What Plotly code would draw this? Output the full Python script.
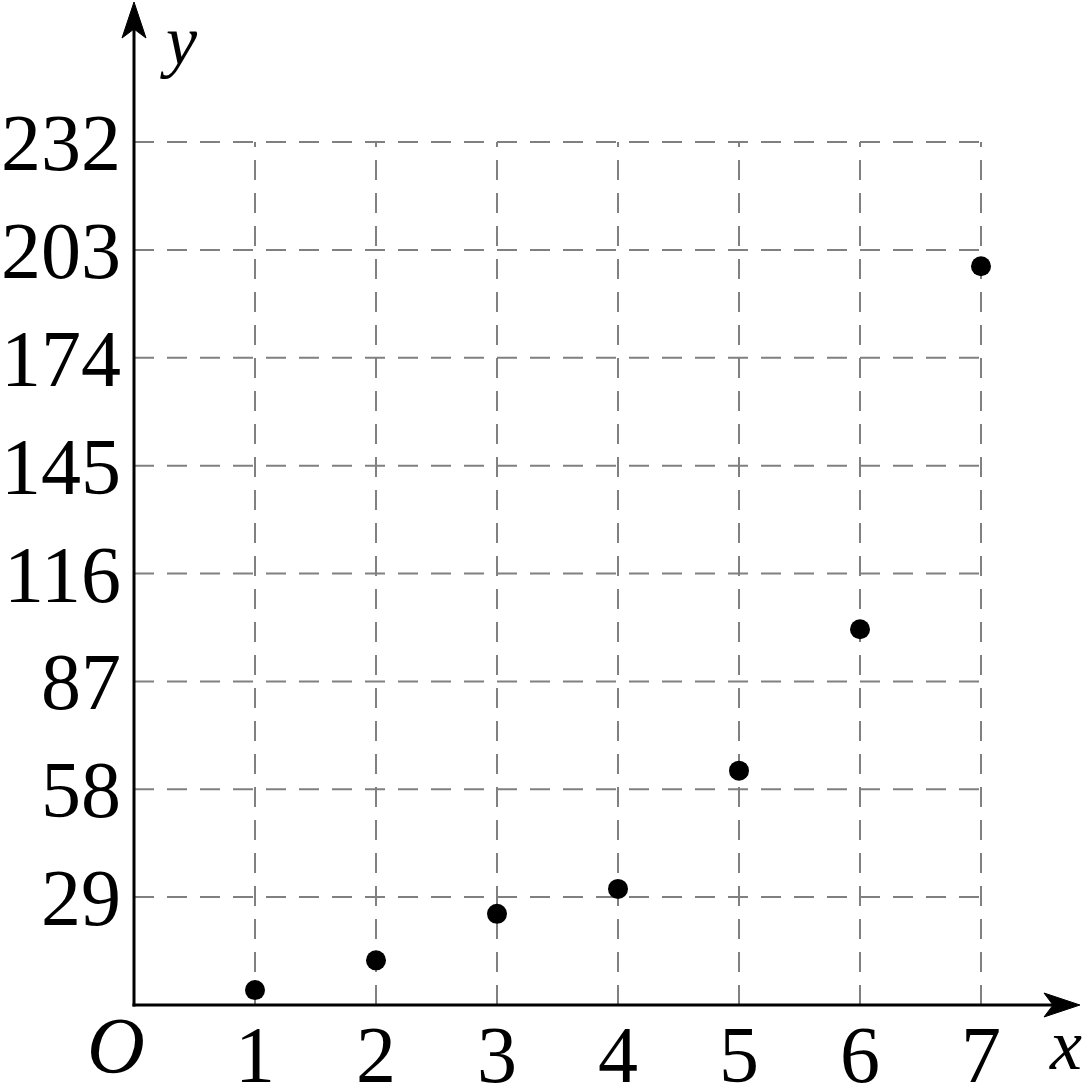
import plotly.graph_objects as go

x_vals = [1, 2, 3, 4, 5, 6, 7]
y_vals = [4, 12, 24.5, 31.2, 63, 101, 198.6]
x_ticks = [1, 2, 3, 4, 5, 6, 7]
y_ticks = [29, 58, 87, 116, 145, 174, 203, 232]

W, H = 1082, 1087
OX, OY = 134, 1005          # pixel position of the origin
PAD = 24                    # extra plot area left of / below the origin
ML, MB = OX - PAD, H - OY - PAD
px_x = 121.0
px_y = (1005 - 142) / 232.0
x_min, x_max = -PAD / px_x, (W - OX) / px_x
y_min, y_max = -PAD / px_y, OY / px_y

FONT = "Liberation Serif, Times New Roman, serif"
grid_color = "#808080"

fig = go.Figure()
fig.add_trace(go.Scatter(x=x_vals, y=y_vals, mode="markers",
                         marker=dict(color="black", size=20), cliponaxis=False))

shapes = []
for xv in x_ticks:
    shapes.append(dict(type="line", x0=xv, x1=xv, y0=0, y1=max(y_ticks),
                       xref="x", yref="y", layer="below",
                       line=dict(color=grid_color, width=2, dash="20px,13px")))
for yv in y_ticks:
    shapes.append(dict(type="line", x0=0, x1=max(x_ticks), y0=yv, y1=yv,
                       xref="x", yref="y", layer="below",
                       line=dict(color=grid_color, width=2, dash="20px,13px")))

# axis lines with stealth arrowheads (pixel-sized, anchored at origin)
x_len = W - OX - 2
y_len = OY - 2
common = dict(type="path", xref="x", yref="y", xsizemode="pixel", ysizemode="pixel",
              xanchor=0, yanchor=0)
shapes.append(dict(**common, path=f"M -1.5,0 L {x_len-20},0", line=dict(color="black", width=3)))
shapes.append(dict(**common, path=f"M 0,-1.5 L 0,{y_len-20}", line=dict(color="black", width=3)))
shapes.append(dict(**common,
                   path=f"M {x_len},0 L {x_len-36},12 L {x_len-27},0 L {x_len-36},-12 Z",
                   fillcolor="black", line=dict(color="black", width=1)))
shapes.append(dict(**common,
                   path=f"M 0,{y_len} L 12,{y_len-36} L 0,{y_len-27} L -12,{y_len-36} Z",
                   fillcolor="black", line=dict(color="black", width=1)))

annotations = [
    dict(x=0, y=0, xref="x", yref="y", text="<i>O</i>", showarrow=False,
         xshift=-18, yshift=-41, font=dict(family=FONT, size=80, color="black")),
    dict(x=x_max, y=0, xref="x", yref="y", text="<i>x</i>", showarrow=False,
         xanchor="right", xshift=2, yshift=-40, font=dict(family=FONT, size=72, color="black")),
    dict(x=0, y=y_max, xref="x", yref="y", text="<i>y</i>", showarrow=False,
         xanchor="left", yanchor="top", xshift=24, yshift=0,
         font=dict(family=FONT, size=70, color="black")),
]

fig.update_layout(
    width=W, height=H,
    margin=dict(l=ML, r=0, t=0, b=MB, autoexpand=False),
    plot_bgcolor="white", paper_bgcolor="white",
    showlegend=False,
    shapes=shapes, annotations=annotations,
    xaxis=dict(range=[x_min, x_max], tickvals=x_ticks, ticktext=[str(v) for v in x_ticks],
               showgrid=False, zeroline=False, showline=False, ticks="", automargin=False,
               tickfont=dict(family=FONT, size=80, color="black"), ticklabelstandoff=-PAD - 4),
    yaxis=dict(range=[y_min, y_max], tickvals=y_ticks, ticktext=[str(v) for v in y_ticks],
               showgrid=False, zeroline=False, showline=False, ticks="", automargin=False,
               tickfont=dict(family=FONT, size=80, color="black"), ticklabelstandoff=12 - PAD),
)

fig.write_html("out.html")
